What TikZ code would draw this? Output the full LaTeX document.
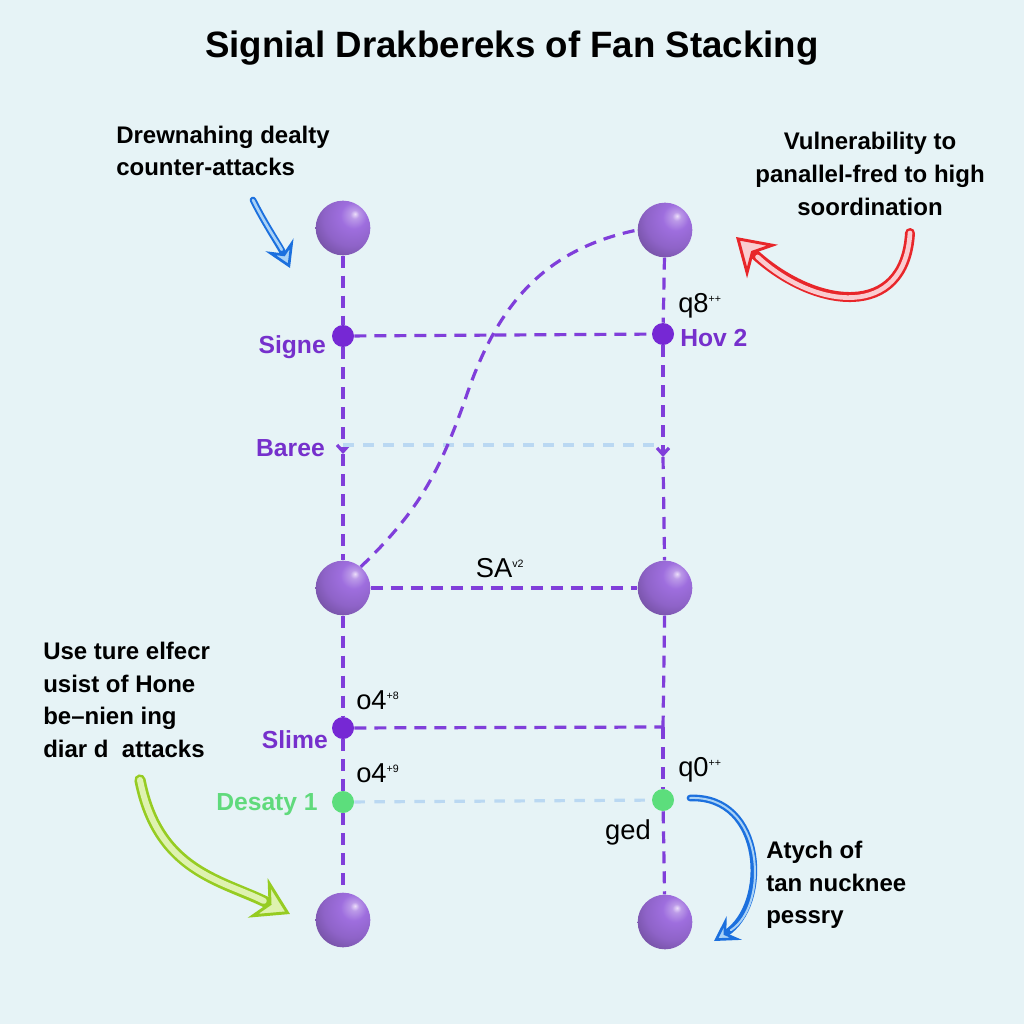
\documentclass[tikz,border=0pt]{standalone}
\usepackage{fontspec}
\setmainfont{Liberation Sans}
\usetikzlibrary{arrows.meta}

\definecolor{bgcol}{RGB}{230,243,246}
\definecolor{linepurple}{RGB}{128,62,218}
\definecolor{dotpurple}{RGB}{118,40,212}
\definecolor{labelpurple}{RGB}{118,48,204}
\definecolor{ballpurple}{RGB}{158,110,222}
\definecolor{ballhi}{RGB}{236,222,250}
\definecolor{dotgreen}{RGB}{92,222,124}
\definecolor{labelgreen}{RGB}{96,218,124}
\definecolor{lineblue}{RGB}{186,216,242}
\definecolor{arrowred}{RGB}{232,38,42}
\definecolor{redfill}{RGB}{250,204,208}
\definecolor{arrowblue}{RGB}{28,112,222}
\definecolor{bluefill}{RGB}{170,210,246}
\definecolor{arrowgreen}{RGB}{150,204,34}
\definecolor{greenfill}{RGB}{222,242,176}

\pgfdeclareradialshading{purpleball}{\pgfpoint{11bp}{13bp}}{%
  color(0bp)=(ballhi); color(4bp)=(ballpurple!70!white); color(12bp)=(ballpurple);
  color(26bp)=(ballpurple!90!black); color(42bp)=(ballpurple!68!black); color(100bp)=(ballpurple!68!black)}

\tikzset{
  pdash/.style={draw=linepurple, line width=2.4pt, dash pattern=on 9pt off 6pt},
  bdash/.style={draw=lineblue, line width=2.4pt, dash pattern=on 8pt off 7pt},
  bigball/.style={circle, minimum size=41pt, inner sep=0pt, shading=purpleball},
  smalldot/.style={circle, minimum size=16.5pt, inner sep=0pt, fill=dotpurple},
  greendot/.style={circle, minimum size=16.5pt, inner sep=0pt, fill=dotgreen},
  plabel/.style={text=labelpurple, inner sep=0.75pt, font=\bfseries\fontsize{18.5}{22}\selectfont},
  glabel/.style={text=labelgreen, inner sep=0.75pt, font=\bfseries\fontsize{18.5}{22}\selectfont},
  numlabel/.style={inner sep=0.75pt, font=\fontsize{20.5}{24}\selectfont},
  note/.style={inner sep=0pt, font=\bfseries\fontsize{18}{24.5}\selectfont},
  barbtip/.style={draw=linepurple, line width=2.4pt, dash pattern=on 9pt off 6pt, -{Straight Barb[length=5pt,width=9pt]}},
}
\newcommand{\tinysup}[1]{\textsuperscript{\fontsize{8}{9}\selectfont #1}}

\begin{document}
\begin{tikzpicture}[x=0.75pt,y=0.75pt,yscale=-1,xscale=1]
\useasboundingbox (0,0) rectangle (1024,1024);
\fill [bgcol] (0,0) rectangle (1024,1024);

% Text Node
\draw (512,48) node [font=\bfseries\fontsize{27.5}{32}\selectfont] (title) {Signial Drakbereks of Fan Stacking};

%Shape: Circle
\draw (343,228) node [bigball] (lballA) {};
\draw (665,230) node [bigball] (rballA) {};
\draw (343,588) node [bigball] (lballB) {};
\draw (665,588) node [bigball] (rballB) {};
\draw (343,920) node [bigball] (lballC) {};
\draw (665,922) node [bigball] (rballC) {};
%Shape: Circle
\draw (343,336) node [smalldot] (ldotA) {};
\draw (663,334) node [smalldot] (rdotA) {};
\draw (343,728) node [smalldot] (ldotB) {};
\draw (343,802) node [greendot] (lgreen) {};
\draw (663,800) node [greendot] (rgreen) {};
\coordinate (lbar) at (343,454);
\coordinate (rbar) at (663,457);
\coordinate (lblue) at (343,445);
\coordinate (rblue) at (656,445);
\coordinate (rslime) at (663,727);

%Straight Lines (left column)
\draw [pdash] (lballA) -- (ldotA);
\draw [barbtip] (ldotA) -- (lbar);
\draw [pdash] (lbar) -- (lballB);
\draw [pdash] (lballB) -- (ldotB);
\draw [pdash] (ldotB) -- (lgreen);
\draw [pdash] (lgreen) -- (lballC);
%Straight Lines (right column)
\draw [pdash] (rballA) -- (rdotA);
\draw [barbtip] (rdotA) -- (rbar);
\draw [pdash] (rbar) -- (rballB);
\draw [pdash] (rballB) -- (rslime);
\draw [pdash] (rslime) -- (rgreen);
\draw [pdash] (rgreen) -- (rballC);

%Straight Lines (rungs)
\draw [pdash] (ldotA) -- (rdotA);
\draw [bdash] (lblue) -- (rblue);
\draw [pdash] (lballB) -- (rballB);
\draw [pdash] (ldotB) -- (rslime);
\draw [bdash] (lgreen) -- (rgreen);

%Curve Lines
\draw [pdash] (lballB.50) .. controls (420,510) and (440,470) .. (465,400) .. controls (495,310) and (540,250) .. (rballA.west);

% Text Node
\draw (327,347) node [plabel, anchor=east] (signe) {Signe};
\draw (679,338) node [plabel, anchor=west] (hov) {Hov 2};
\draw (677,306) node [numlabel, anchor=west] (qeight) {q8\tinysup{++}};
\draw (326,448) node [plabel, anchor=east] (baree) {Baree};
\draw (500,568) node [numlabel] (sa) {SA\tinysup{v2}};
\draw (355,700) node [numlabel, anchor=west] (ofourA) {o4\tinysup{+8}};
\draw (329,740) node [plabel, anchor=east] (slime) {Slime};
\draw (355,773) node [numlabel, anchor=west] (ofourB) {o4\tinysup{+9}};
\draw (319,805) node [glabel, anchor=east] (desaty) {Desaty 1};
\draw (677,770) node [numlabel, anchor=west] (qzero) {q0\tinysup{++}};
\draw (628,832) node [numlabel] (ged) {ged};

% Text Node
\draw (116,151) node [note, anchor=west, align=left] (noteA) {Drewnahing dealty\\counter-attacks};
\draw (870,174) node [note, align=center] (noteB) {Vulnerability to\\panallel-fred to high\\soordination};
\draw (43,700) node [note, anchor=west, align=left] (noteC) {Use ture elfecr\\usist of Hone\\be--nien ing\\diar d\ \ attacks};
\draw (766,885) node [note, anchor=west, align=left] (noteD) {Atych of\\tan nucknee\\pessry};

%Curve Lines (arrows)
\coordinate (redstart) at (910,233);
\coordinate (redend) at (736,237);
\draw [draw=arrowred, line width=7.5pt, line cap=round, -{Stealth[length=27pt,width=34pt,inset=9pt,fill=redfill,line width=2.2pt]}] (redstart) .. controls (905,320) and (815,310) .. (redend);
\draw [draw=redfill, line width=3.5pt, line cap=round, shorten >=22pt] (redstart) .. controls (905,320) and (815,310) .. (redend);

\coordinate (bluestart) at (253,200);
\coordinate (blueend) at (290,268);
\draw [draw=arrowblue, line width=5pt, line cap=round, -{Stealth[length=19pt,width=23pt,inset=7pt,fill=bluefill,line width=2pt]}] (bluestart) .. controls (266,226) and (280,246) .. (blueend);
\draw [draw=bluefill, line width=2pt, line cap=round, shorten >=15pt] (bluestart) .. controls (266,226) and (280,246) .. (blueend);

\coordinate (greenstart) at (140,780);
\coordinate (greenend) at (290,914);
\draw [draw=arrowgreen, line width=8.5pt, line cap=round, -{Stealth[length=27pt,width=33pt,inset=9pt,fill=greenfill,line width=2.2pt]}] (greenstart) .. controls (158,872) and (222,880) .. (greenend);
\draw [draw=greenfill, line width=4.5pt, line cap=round, shorten >=22pt] (greenstart) .. controls (158,872) and (222,880) .. (greenend);

\coordinate (bbstart) at (690,798);
\coordinate (bbend) at (714,941);
\draw [draw=arrowblue, line width=5pt, line cap=round, -{Stealth[length=18pt,width=21pt,inset=7pt,fill=bluefill,line width=2pt]}] (bbstart) .. controls (765,795) and (770,905) .. (bbend);
\draw [draw=bluefill, line width=1.5pt, line cap=round, shorten >=15pt] (bbstart) .. controls (765,795) and (770,905) .. (bbend);

\end{tikzpicture}
\end{document}
